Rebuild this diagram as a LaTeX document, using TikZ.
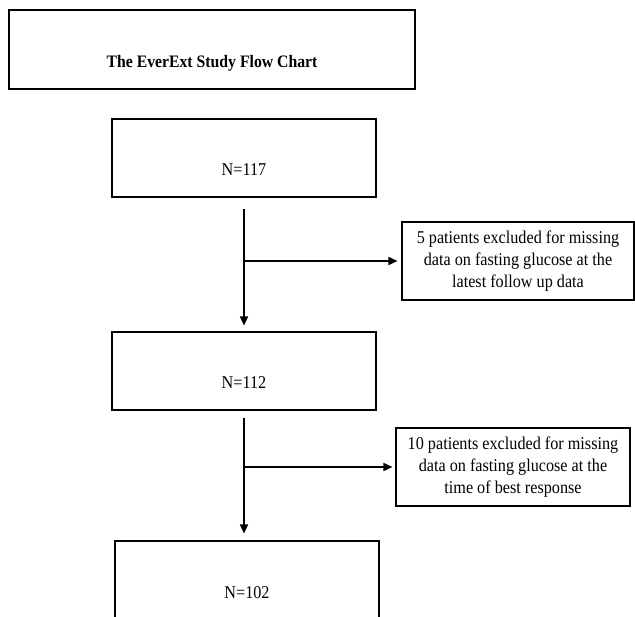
\documentclass[tikz,border=0pt]{standalone}
\usepackage{fontspec}
\setmainfont{Liberation Serif}[FakeStretch=0.9]
\usetikzlibrary{arrows.meta}

\begin{document}
\begin{tikzpicture}[x=1pt,y=-1pt,
    box/.style={draw,line width=1.1pt,inner sep=0pt},
    lbl/.style={font=\fontsize{18}{22}\selectfont,anchor=base,inner sep=0pt},
    note/.style={font=\fontsize{18}{22}\selectfont,align=center},
    flow/.style={line width=1.6pt,-{Triangle[length=9pt,width=8pt]}}]

    \useasboundingbox (0,0) rectangle (635,617);

    % Title box
    \node[box,minimum width=406pt,minimum height=79pt] (title) at (212,49.5) {};
    \node[lbl,font=\fontsize{17.5}{22}\selectfont\bfseries] (titletxt) at (212,68) {The EverExt Study Flow Chart};

    % Patient counts, text sits low in each box
    \foreach \n/\x/\y in {117/244/158,112/244/371,102/247/580} {%
      \node[box,minimum width=264pt,minimum height=78pt] (n\n) at (\x,\y) {};
      \node[lbl] (t\n) at (\x,\y+18) {N=\n};
    }

    % Exclusions on the right
    \node[box,note,minimum width=232pt,minimum height=78pt] (ex1) at (518,261)
      {5 patients excluded for missing\\data on fasting glucose at the\\latest follow up data};
    \node[box,note,minimum width=234pt,minimum height=78pt] (ex2) at (513,467)
      {10 patients excluded for missing\\data on fasting glucose at the\\time of best response};

    % Flow down
    \draw[flow,shorten <=11pt,shorten >=6pt] (n117.south) -- (n112.north);
    \draw[flow,shorten <=7pt,shorten >=7pt] (n112.south) -- (n112.south |- n102.north);

    % Branches to the exclusions
    \draw[flow,shorten >=4pt] (n117.south |- ex1.west) -- (ex1.west);
    \draw[flow,shorten >=3pt] (n112.south |- ex2.west) -- (ex2.west);

\end{tikzpicture}
\end{document}
